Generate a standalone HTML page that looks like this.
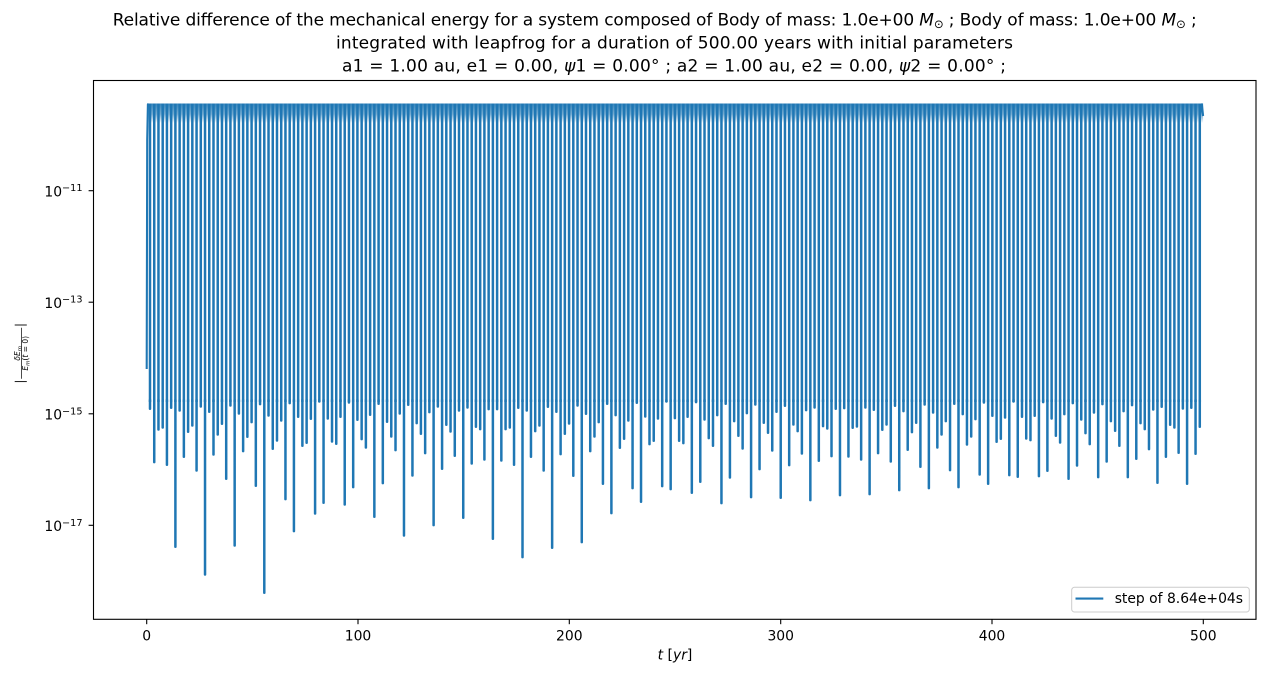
<!DOCTYPE html>
<html><head><meta charset="utf-8"><style>html,body{margin:0;padding:0;background:#fff}svg{display:block}</style></head>
<body>
<svg width="1265" height="676" viewBox="0 0 1265 676" xmlns="http://www.w3.org/2000/svg" font-family="'DejaVu Sans','Liberation Sans',sans-serif">
<defs>
<linearGradient id="bandg" x1="0" y1="0" x2="0" y2="1">
<stop offset="0" stop-color="#1f77b4" stop-opacity="0.9"/>
<stop offset="0.55" stop-color="#1f77b4" stop-opacity="0.6"/>
<stop offset="1" stop-color="#1f77b4" stop-opacity="0"/>
</linearGradient>
</defs>
<rect width="1265" height="676" fill="#fff"/>
<g font-size="17" fill="#000">
<text x="112.7" y="25.7" textLength="1084" lengthAdjust="spacing">Relative difference of the mechanical energy for a system composed of Body of mass: 1.0e+00 <tspan font-style="italic">M</tspan><tspan font-size="11.7" dy="2.5">⊙</tspan><tspan dy="-2.5"> ; Body of mass: 1.0e+00 </tspan><tspan font-style="italic">M</tspan><tspan font-size="11.7" dy="2.5">⊙</tspan><tspan dy="-2.5"> ;</tspan></text>
<text x="336" y="48.7" textLength="677" lengthAdjust="spacing">integrated with leapfrog for a duration of 500.00 years with initial parameters</text>
<text x="342" y="71.7" textLength="664" lengthAdjust="spacing">a1 = 1.00 au, e1 = 0.00, <tspan font-style="italic">ψ</tspan>1 = 0.00° ; a2 = 1.00 au, e2 = 0.00, <tspan font-style="italic">ψ</tspan>2 = 0.00° ;</text>
</g>
<g stroke="#1f77b4" fill="none">
<rect x="147.8" y="103.5" width="1055.3" height="19.5" fill="url(#bandg)" stroke="none"/>
<line x1="148.75" y1="252.75" x2="1201.1" y2="252.75" stroke-width="298.5" stroke-dasharray="2.5 1.733"/>
<polyline points="146.7,369 147.2,140 147.9,104.3 148.8,106" stroke-width="2.08" stroke-linejoin="round"/>
<polyline points="1199.8,115 1201.9,104.3 1203.1,116" stroke-width="2.08" stroke-linejoin="round"/>
<path stroke-width="2.5" stroke-linecap="round" d="M150 400v8.8m4.233-8.8v62.1m4.233-62.1v29.5m4.233-29.5v27.5m4.233-27.5v64.8m4.233-64.8v7.8m4.233-7.8v146.8m4.233-146.8v10.5m4.233-10.5v56.8m4.233-56.8v31.8m4.233-31.8v25.5m4.233-25.5v70.5m4.233-70.5v6.5m4.233-6.5v174.5m4.233-174.5v11.8m4.233-11.8v54.5m4.233-54.5v34.5m4.233-34.5v23.8m4.233-23.8v78.8m4.233-78.8v5.5m4.233-5.5v145.5m4.233-145.5v13.5m4.233-13.5v51.1m4.233-51.1v36.8m4.233-36.8v22.1m4.233-22.1v85.8m4.233-85.8v4.1m4.233-4.1v192.8m4.233-192.8v15.5m4.233-15.5v48.8m4.233-48.8v40.5m4.233-40.5v20.5m4.233-20.5v99.1m4.233-99.1v3.1m4.233-3.1v131.1m4.233-131.1v16.8m4.233-16.8v45.8m4.233-45.8v42.8m4.233-42.8v18.8m4.233-18.8v113.5m4.233-113.5v1.5m4.233-1.5v102.8m4.233-102.8v18.5m4.233-18.5v41.5m4.233-41.5v43.8m4.233-43.8v16.8m4.233-16.8v104.5m4.233-104.5v2.5m4.233-2.5v87.1m4.233-87.1v19.8m4.233-19.8v39.1m4.233-39.1v47.5m4.233-47.5v14.8m4.233-14.8v116.8m4.233-116.8v3.8m4.233-3.8v83.1m4.233-83.1v21.8m4.233-21.8v36.5m4.233-36.5v50.1m4.233-50.1v13.5m4.233-13.5v135.5m4.233-135.5v4.8m4.233-4.8v75.5m4.233-75.5v23.1m4.233-23.1v33.8m4.233-33.8v53.1m4.233-53.1v12.1m4.233-12.1v125.1m4.233-125.1v6.5m4.233-6.5v68.8m4.233-68.8v24.8m4.233-24.8v31.5m4.233-31.5v55.8m4.233-55.8v10.5m4.233-10.5v117.8m4.233-117.8v7.5m4.233-7.5v63.5m4.233-63.5v26.8m4.233-26.8v29.1m4.233-29.1v59.5m4.233-59.5v9.1m4.233-9.1v138.8m4.233-138.8v9.1m4.233-9.1v60.5m4.233-60.5v29.1m4.233-29.1v27.5m4.233-27.5v64.8m4.233-64.8v7.8m4.233-7.8v157.1m4.233-157.1v10.5m4.233-10.5v56.8m4.233-56.8v31.1m4.233-31.1v25.5m4.233-25.5v70.5m4.233-70.5v6.8m4.233-6.8v147.8m4.233-147.8v11.8m4.233-11.8v54.1m4.233-54.1v33.8m4.233-33.8v23.5m4.233-23.5v75.8m4.233-75.8v5.5m4.233-5.5v142.1m4.233-142.1v13.8m4.233-13.8v51.1m4.233-51.1v36.5m4.233-36.5v22.1m4.233-22.1v83.8m4.233-83.8v3.8m4.233-3.8v113.1m4.233-113.1v15.1m4.233-15.1v47.8m4.233-47.8v38.8m4.233-38.8v20.5m4.233-20.5v88.1m4.233-88.1v2.8m4.233-2.8v101.8m4.233-101.8v16.5m4.233-16.5v44.1m4.233-44.1v40.8m4.233-40.8v18.5m4.233-18.5v86.1m4.233-86.1v1.5m4.233-1.5v89.1m4.233-89.1v18.1m4.233-18.1v40.8m4.233-40.8v43.1m4.233-43.1v16.8m4.233-16.8v92.8m4.233-92.8v2.1m4.233-2.1v81.8m4.233-81.8v19.5m4.233-19.5v38.1m4.233-38.1v45.8m4.233-45.8v15.1m4.233-15.1v103.1m4.233-103.1v3.8m4.233-3.8v77.5m4.233-77.5v21.1m4.233-21.1v35.8m4.233-35.8v48.5m4.233-48.5v13.1m4.233-13.1v97.1m4.233-97.1v4.5m4.233-4.5v69.1m4.233-69.1v22.8m4.233-22.8v32.8m4.233-32.8v50.5m4.233-50.5v11.8m4.233-11.8v97.8m4.233-97.8v5.8m4.233-5.8v65.1m4.233-65.1v24.5m4.233-24.5v31.1m4.233-31.1v53.5m4.233-53.5v10.1m4.233-10.1v100.1m4.233-100.1v7.5m4.233-7.5v60.8m4.233-60.8v26.1m4.233-26.1v28.5m4.233-28.5v56.1m4.233-56.1v8.8m4.233-8.8v95.1m4.233-95.1v8.1m4.233-8.1v56.5m4.233-56.5v27.8m4.233-27.8v26.5m4.233-26.5v59.5m4.233-59.5v7.5m4.233-7.5v94.1m4.233-94.1v9.8m4.233-9.8v53.1m4.233-53.1v29.8m4.233-29.8v24.5m4.233-24.5v61.5m4.233-61.5v5.8m4.233-5.8v90.1m4.233-90.1v11.1m4.233-11.1v49.8m4.233-49.8v32.1m4.233-32.1v22.8m4.233-22.8v66.8m4.233-66.8v4.5m4.233-4.5v88.1m4.233-88.1v12.5m4.233-12.5v47.5m4.233-47.5v34.5m4.233-34.5v21.1m4.233-21.1v70.1m4.233-70.1v3.8m4.233-3.8v87.1m4.233-87.1v14.1m4.233-14.1v44.5m4.233-44.5v36.5m4.233-36.5v19.1m4.233-19.1v74.5m4.233-74.5v2.5m4.233-2.5v83.8m4.233-83.8v15.8m4.233-15.8v41.8m4.233-41.8v38.8m4.233-38.8v17.5m4.233-17.5v75.1m4.233-75.1v1.5m4.233-1.5v76.8m4.233-76.8v16.8m4.233-16.8v38.5m4.233-38.5v40.1m4.233-40.1v15.8m4.233-15.8v76.1m4.233-76.1v2.1m4.233-2.1v70.8m4.233-70.8v18.5m4.233-18.5v35.8m4.233-35.8v42.5m4.233-42.5v14.1m4.233-14.1v78.8m4.233-78.8v3.1m4.233-3.1v65.5m4.233-65.5v19.5m4.233-19.5v33.1m4.233-33.1v44.1m4.233-44.1v12.5m4.233-12.5v77.1m4.233-77.1v4.1m4.233-4.1v61.5m4.233-61.5v21.1m4.233-21.1v30.8m4.233-30.8v45.8m4.233-45.8v11.1m4.233-11.1v77.1m4.233-77.1v5.1m4.233-5.1v58.8m4.233-58.8v23.1m4.233-23.1v29.1m4.233-29.1v49.1m4.233-49.1v9.5m4.233-9.5v82.8m4.233-82.8v6.8m4.233-6.8v56.8m4.233-56.8v24.8m4.233-24.8v27.5m4.233-27.5v52.8m4.233-52.8v8.5m4.233-8.5v83.8m4.233-83.8v7.8m4.233-7.8v53.8m4.233-53.8v26.8"/>
</g>
<rect x="93.5" y="80.5" width="1162.5" height="538.8" fill="none" stroke="#000" stroke-width="1.1"/>
<g stroke="#000" stroke-width="1.1">
<line x1="146.7" y1="619.3" x2="146.7" y2="624.2"/>
<line x1="358" y1="619.3" x2="358" y2="624.2"/>
<line x1="569.3" y1="619.3" x2="569.3" y2="624.2"/>
<line x1="780.7" y1="619.3" x2="780.7" y2="624.2"/>
<line x1="992" y1="619.3" x2="992" y2="624.2"/>
<line x1="1203.3" y1="619.3" x2="1203.3" y2="624.2"/>
<line x1="88.6" y1="190.7" x2="93.5" y2="190.7"/>
<line x1="88.6" y1="302.2" x2="93.5" y2="302.2"/>
<line x1="88.6" y1="413.8" x2="93.5" y2="413.8"/>
<line x1="88.6" y1="525.3" x2="93.5" y2="525.3"/>
</g>
<g font-size="13.9" fill="#000" text-anchor="middle">
<text x="146.7" y="640.3">0</text>
<text x="358" y="640.3">100</text>
<text x="569.3" y="640.3">200</text>
<text x="780.7" y="640.3">300</text>
<text x="992" y="640.3">400</text>
<text x="1203.3" y="640.3">500</text>
</g>
<g font-size="13.9" fill="#000" text-anchor="end">
<text x="82.5" y="196.5">10<tspan font-size="9.7" dy="-5.3">−11</tspan></text>
<text x="82.5" y="308">10<tspan font-size="9.7" dy="-5.3">−13</tspan></text>
<text x="82.5" y="419.6">10<tspan font-size="9.7" dy="-5.3">−15</tspan></text>
<text x="82.5" y="531.1">10<tspan font-size="9.7" dy="-5.3">−17</tspan></text>
</g>
<text x="675" y="659.5" font-size="13.9" text-anchor="middle"><tspan font-style="italic">t</tspan> [<tspan font-style="italic">yr</tspan>]</text>
<g transform="translate(21 353.3) rotate(-90)">
<line x1="-28.3" y1="-6.3" x2="-28.3" y2="5.8" stroke="#000" stroke-width="0.9"/>
<line x1="28.3" y1="-6.3" x2="28.3" y2="5.8" stroke="#000" stroke-width="0.9"/>
<line x1="-25.5" y1="0.6" x2="25.5" y2="0.6" stroke="#000" stroke-width="0.7"/>
<text x="0" y="-1.2" font-size="7.5" text-anchor="middle"><tspan font-style="italic">δE</tspan><tspan font-size="5.5" font-style="italic" dy="1.5">m</tspan></text>
<text x="0" y="6.8" font-size="7.5" text-anchor="middle"><tspan font-style="italic">E</tspan><tspan font-size="5.5" font-style="italic" dy="1.5">m</tspan><tspan dy="-1.5">(</tspan><tspan font-style="italic">t</tspan> = 0)</text>
</g>
<rect x="1071.7" y="587.3" width="177.6" height="24.7" rx="2.8" fill="#fff" fill-opacity="0.8" stroke="#cccccc" stroke-width="1"/>
<line x1="1075.5" y1="598.6" x2="1103.3" y2="598.6" stroke="#1f77b4" stroke-width="2.08"/>
<text x="1114.7" y="603" font-size="13.9" fill="#000">step of 8.64e+04s</text>
</svg>
</body></html>
